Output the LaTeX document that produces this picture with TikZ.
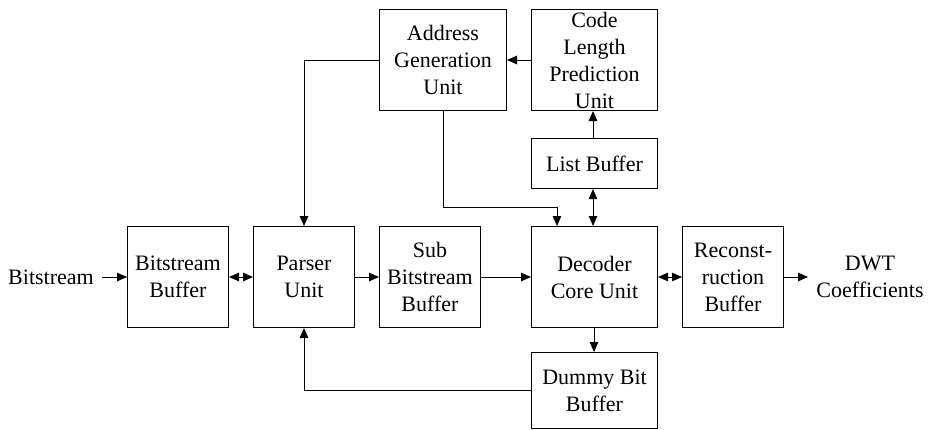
\documentclass[tikz,border=0pt]{standalone}
\usepackage{fontspec}
\setmainfont{Liberation Serif}
\usetikzlibrary{arrows.meta,calc}
\begin{document}
\begin{tikzpicture}[x=1pt,y=-1pt,
  blk/.style={draw,line width=1pt,anchor=north west,inner sep=0pt,align=center,
    font=\fontsize{22}{27}\selectfont},
  lbl/.style={align=center,font=\fontsize{22}{27}\selectfont,inner sep=0pt},
  con/.style={line width=1pt,-{Triangle[length=10pt,width=8.5pt]}},
  bicon/.style={line width=1pt,{Triangle[length=10pt,width=8.5pt]}-{Triangle[length=10pt,width=8.5pt]}},
  line/.style={line width=1pt}]
\useasboundingbox (0,0) rectangle (931,429);
% blocks of the decoder
\node[blk,minimum width=101pt,minimum height=101pt] (bb) at (127,226) {Bitstream\\Buffer};
\node[blk,minimum width=101pt,minimum height=101pt] (pu) at (253,226) {Parser\\Unit};
\node[blk,minimum width=101pt,minimum height=101pt] (sb) at (379,226) {Sub\\Bitstream\\Buffer};
\node[blk,minimum width=126pt,minimum height=101pt] (dc) at (531,226) {Decoder\\Core Unit};
\node[blk,minimum width=101pt,minimum height=101pt] (rb) at (682,226) {Reconst-\\ruction\\Buffer};
\node[blk,minimum width=126pt,minimum height=76pt] (db) at (531,352) {Dummy Bit\\Buffer};
\node[blk,minimum width=126pt,minimum height=50pt] (lb) at (531,138) {List Buffer};
\node[blk,minimum width=126pt,minimum height=101pt] (cl) at (531,9) {Code\\Length\\Prediction\\Unit};
\node[blk,minimum width=127pt,minimum height=101pt] (ag) at (379,9) {Address\\Generation\\Unit};
% input and output labels
\node[lbl] (in) at (51,277) {Bitstream};
\node[lbl] (out) at (870,277) {DWT\\Coefficients};
\coordinate (outend) at (808,277);
% connections
\draw[con] (in.east) ++(8,0) -- (bb.west);
\draw[bicon] (bb.east) -- (pu.west);
\draw[con] (pu.east) -- (sb.west);
\draw[con] (sb.east) -- (dc.west);
\draw[bicon] (dc.east) -- (rb.west);
\draw[con] (rb.east) -- (outend);
\draw[con] (cl.west) -- (ag.east);
\draw[con] (ag.west) -| (pu.north);
\draw[con] (ag.south -| 443,0) |- (557,207) -- (dc.north -| 557,0);
\draw[bicon] (lb.south -| 593,0) -- (dc.north -| 593,0);
\draw[con] (lb.north -| 593,0) -- (cl.south -| 593,0);
\draw[con] (dc.south -| 594,0) -- (db.north -| 594,0);
\draw[con] (db.west |- 0,390) -| (pu.south);
\end{tikzpicture}
\end{document}
